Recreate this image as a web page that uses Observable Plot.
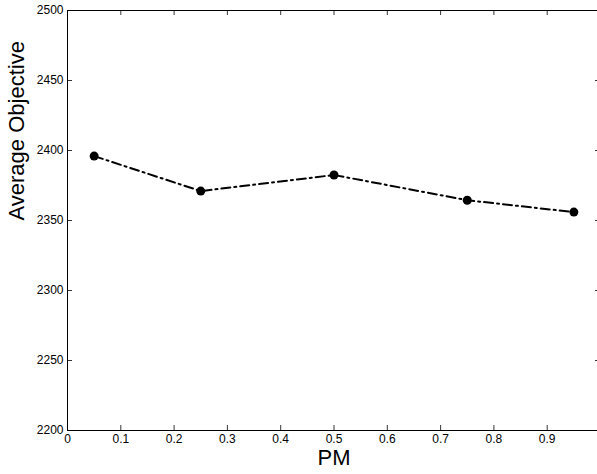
<!DOCTYPE html>
<html>
<head>
<meta charset="utf-8">
<script src="https://cdn.jsdelivr.net/npm/d3@7"></script>
<script src="https://cdn.jsdelivr.net/npm/@observablehq/plot@0.6"></script>
<style>
  html, body { margin: 0; padding: 0; background: #fff; overflow: hidden; }
  #chart svg { display: block; }
</style>
</head>
<body>
<div id="chart"></div>
<script>
const pm = [0.05, 0.25, 0.5, 0.75, 0.95];
const objective = [2396, 2371, 2382.5, 2364.5, 2356];
const xTicks = [0, 0.1, 0.2, 0.3, 0.4, 0.5, 0.6, 0.7, 0.8, 0.9, 1];
const yTicks = [2200, 2250, 2300, 2350, 2400, 2450, 2500];
const xLabel = "PM";
const yLabel = "Average Objective";

const data = pm.map((x, i) => ({x, y: objective[i]}));
const font = "'Liberation Sans', Arial, Helvetica, sans-serif";

const chart = Plot.plot({
  width: 597,
  height: 474,
  marginLeft: 67,
  marginRight: -3,
  marginTop: 10,
  marginBottom: 44,
  style: {fontFamily: font, background: "#fff", color: "#000", overflow: "hidden"},
  x: {domain: [0, 1]},
  y: {domain: [2200, 2500]},
  marks: [
    Plot.frame({stroke: "#000", strokeWidth: 1}),
    // inward ticks: bottom and top
    Plot.ruleX(xTicks, {x: d => d, insetTop: 415, stroke: "#000", strokeWidth: 0.8}),
    Plot.ruleX(xTicks, {x: d => d, insetBottom: 415, stroke: "#000", strokeWidth: 0.8}),
    // inward ticks: left and right
    Plot.ruleY(yTicks, {y: d => d, insetRight: 528, stroke: "#000", strokeWidth: 0.8}),
    Plot.ruleY(yTicks, {y: d => d, insetLeft: 528, stroke: "#000", strokeWidth: 0.8}),
    Plot.axisX(xTicks, {tickSize: 0, tickPadding: 4, fontSize: 12, label: null, tickFormat: d => String(+d.toFixed(1))}),
    Plot.axisY(yTicks, {tickSize: 0, tickPadding: 4, fontSize: 12, label: null, tickFormat: d => String(d)}),
    Plot.line(data, {x: "x", y: "y", stroke: "#000", strokeWidth: 2, strokeDasharray: "9,4,2,4"}),
    Plot.dot(data, {x: "x", y: "y", r: 4.5, fill: "#000", stroke: "none"}),
    Plot.text([xLabel], {frameAnchor: "bottom", dy: 27, lineAnchor: "middle", fontSize: 22, text: d => d, fill: "#000"}),
    Plot.text([yLabel], {frameAnchor: "left", dx: -50.5, rotate: -90, lineAnchor: "middle", fontSize: 22, text: d => d, fill: "#000"})
  ]
});
document.getElementById("chart").appendChild(chart);
</script>
</body>
</html>
